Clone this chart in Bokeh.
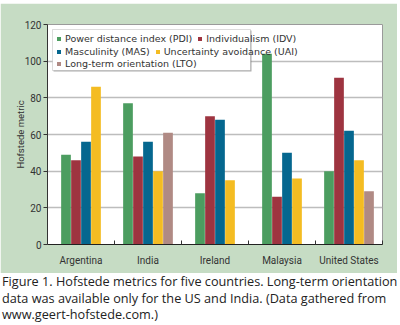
from bokeh.plotting import figure
from bokeh.models import FixedTicker, Legend, LegendItem, Div, BoxAnnotation
from bokeh.layouts import column
from bokeh.embed import file_html
from bokeh.resources import INLINE

countries = ["Argentina", "India", "Ireland", "Malaysia", "United States"]
series_names = ["Power distance index (PDI)", "Individualism (IDV)",
                "Masculinity (MAS)", "Uncertainty avoidance (UAI)",
                "Long-term orientation (LTO)"]
pdi = [49, 77, 28, 104, 40]
idv = [46, 48, 70, 26, 91]
mas = [56, 56, 68, 50, 62]
uai = [86, 40, 35, 36, 46]
lto = [None, 61, None, None, 29]
y_ticks = [0, 20, 40, 60, 80, 100, 120]
legend_rows = [[0, 1], [2, 3], [4]]

series = [pdi, idv, mas, uai, lto]
colors = ["#4c9d60", "#9e3440", "#05678f", "#f4bc22", "#b08a84"]

FONT = "Roboto"
LEGEND_FONT = "DejaVu Sans"
p = figure(width=397, height=270, x_range=(0, len(countries)), y_range=(0, 120),
           output_backend="svg", toolbar_location=None, tools="",
           min_border_left=47, min_border_top=21, min_border_right=15,
           min_border_bottom=29, margin=(3, 3, 0, 0))
p.border_fill_color = "#c6dcc4"
p.background_fill_color = "white"
p.outline_line_color = "#9a9a9a"
p.outline_line_width = 1

slot = 10 / 67.0
renderers = [None] * len(series)
for ci in range(len(countries)):
    present = [k for k in range(len(series)) if series[k][ci] is not None]
    n = len(present)
    for j, k in enumerate(present):
        xc = ci + 0.5 + (j - (n - 1) / 2) * slot
        r = p.vbar(x=[xc], top=[series[k][ci]], bottom=0, width=slot * 0.97,
                   fill_color=colors[k], line_color=None)
        if renderers[k] is None:
            renderers[k] = r

# legend frame (canvas pixels) with a soft shadow
p.add_layout(BoxAnnotation(left=53, right=251, top=27, bottom=68,
                           left_units="canvas", right_units="canvas",
                           top_units="canvas", bottom_units="canvas",
                           fill_color="#777777", fill_alpha=0.6, line_color=None,
                           level="overlay"))
p.add_layout(BoxAnnotation(left=52, right=250, top=26, bottom=67,
                           left_units="canvas", right_units="canvas",
                           top_units="canvas", bottom_units="canvas",
                           fill_color="white", fill_alpha=1, line_color="#8a8a8a",
                           line_width=1, level="overlay"))

row_bottoms = [200.5, 187, 175]
for row, yb in zip(legend_rows, row_bottoms):
    lg = Legend(items=[LegendItem(label=series_names[k], renderers=[renderers[k]]) for k in row],
                location=(9, yb), orientation="horizontal")
    lg.margin = 0
    lg.padding = 0
    lg.spacing = 5
    lg.glyph_width = 5
    lg.glyph_height = 5
    lg.label_text_font = LEGEND_FONT
    lg.label_text_font_size = "9.5px"
    lg.label_text_color = "#333333"
    lg.label_height = 10
    lg.label_standoff = 4
    lg.border_line_color = None
    lg.background_fill_alpha = 0
    lg.item_background_fill_alpha = 0
    lg.level = "overlay"
    p.add_layout(lg, "center")

p.xgrid.grid_line_color = None
p.ygrid.grid_line_color = "#bdbdbd"
p.ygrid.grid_line_width = 1.5
p.ygrid.ticker = FixedTicker(ticks=y_ticks)

p.yaxis.ticker = FixedTicker(ticks=y_ticks)
p.yaxis.axis_label = "Hofstede metric"
p.yaxis.axis_label_text_font = FONT
p.yaxis.axis_label_text_font_style = "normal"
p.yaxis.axis_label_text_font_size = "9.5px"
p.yaxis.axis_label_text_color = "#333333"
p.yaxis.axis_label_standoff = -4
p.yaxis.major_label_text_font = FONT
p.yaxis.major_label_text_font_size = "10px"
p.yaxis.major_label_text_color = "#333333"
p.yaxis.major_label_standoff = 2
p.yaxis.major_tick_out = 4
p.yaxis.major_tick_in = 0
p.yaxis.minor_tick_line_color = None
p.yaxis.axis_line_color = "#333333"
p.yaxis.major_tick_line_color = "#333333"

centers = [i + 0.5 for i in range(len(countries))]
bounds = [float(i) for i in range(1, len(countries) + 1)]
p.xaxis.ticker = FixedTicker(ticks=centers, minor_ticks=bounds)
p.xaxis.major_label_overrides = {c: name for c, name in zip(centers, countries)}
p.xaxis.major_label_text_font = FONT
p.xaxis.major_label_text_font_size = "10px"
p.xaxis.major_label_text_color = "#333333"
p.xaxis.major_label_standoff = 4
p.xaxis.major_tick_line_color = None
p.xaxis.minor_tick_in = 4
p.xaxis.minor_tick_out = 0
p.xaxis.minor_tick_line_color = "#333333"
p.xaxis.axis_line_color = "#222222"

caption = Div(
    text="Figure 1. Hofstede metrics for five countries. Long-term orientation<br>"
         "data was available only for the US and India. (Data gathered from<br>"
         "www.geert-hofstede.com.)",
    width=398, height=52, margin=(0, 0, 0, 2),
    styles={"font-family": "'Open Sans'", "font-size": "12.7px",
            "line-height": "16.5px", "color": "#222222", "padding-top": "0px",
            "white-space": "nowrap"})

layout = column(p, caption, spacing=0)
open("out.html", "w").write(file_html(layout, INLINE))
